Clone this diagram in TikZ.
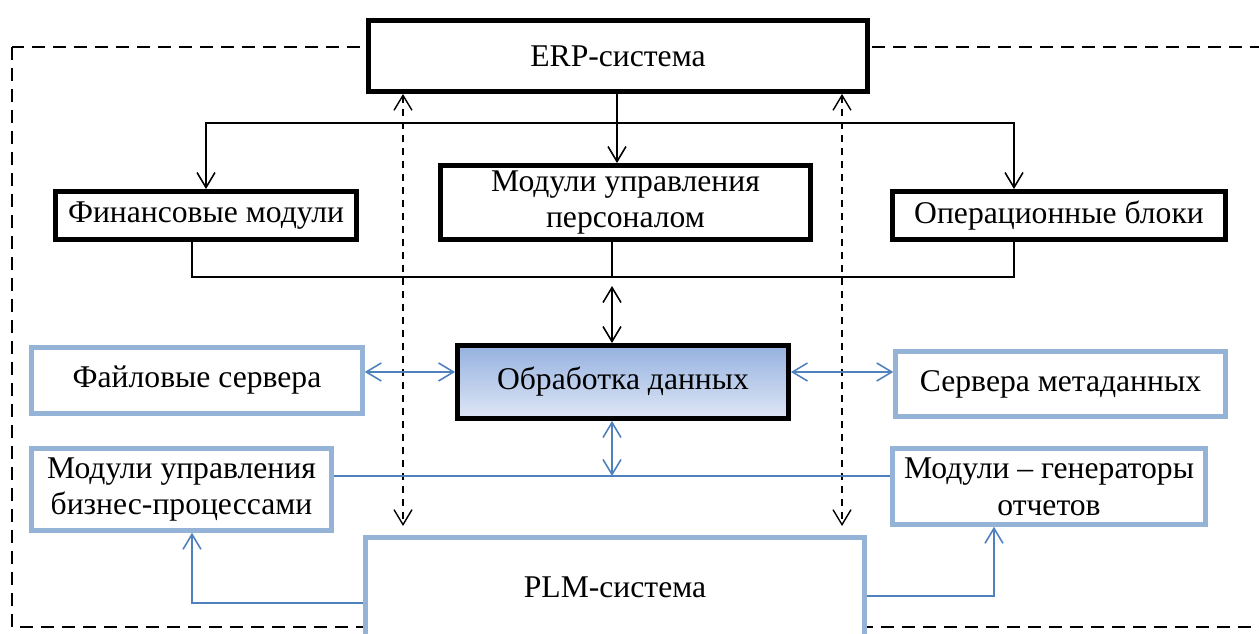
\documentclass[tikz,border=0pt]{standalone}
\usepackage{fontspec}
\setmainfont{Liberation Serif}
\usetikzlibrary{arrows.meta,positioning,calc}
\definecolor{cLineBlue}{HTML}{4F81BD}
\definecolor{cBoxBlue}{HTML}{95B3D7}
\definecolor{cProcTop}{HTML}{95B1E0}
\definecolor{cProcBot}{HTML}{DFE7F5}
\tikzset{
  kbox/.style={draw=black,fill=white,line width=2.8pt,align=center,font=\fontsize{18}{21}\selectfont,inner sep=2pt},
  bbox/.style={kbox,draw=cBoxBlue,line width=2.6pt},
  arr/.style={-{Straight Barb[length=0.3cm,width=0.36cm]},line width=0.9pt},
  darr/.style={{Straight Barb[length=0.3cm,width=0.36cm]}-{Straight Barb[length=0.3cm,width=0.36cm]},line width=0.9pt},
  ln/.style={line width=0.9pt},
  barr/.style={arr,color=cLineBlue},
  bdarr/.style={darr,color=cLineBlue},
  bln/.style={ln,color=cLineBlue},
  ddarr/.style={darr,line width=0.8pt,dash pattern=on 0.14cm off 0.12cm},
  frame/.style={line width=1.4pt,dash pattern=on 0.26cm off 0.16cm},
}

\begin{document}
\begin{tikzpicture}[x=0.02cm,y=-0.02cm]
  \useasboundingbox[fill=white] (0,0) rectangle (1259,634);
  \clip (0,0) rectangle (1259,634);
  % dashed frame
  \draw[frame] (12,47) rectangle (1275,627);
  % ERP part
  \node[kbox,minimum width=10.0cm,minimum height=1.42cm] (erp) at (618,56) {ERP-система};
  \node[kbox,minimum width=6.02cm,minimum height=0.96cm] (fin) at (206,215.5) {Финансовые модули};
  \node[kbox,minimum width=7.4cm,minimum height=1.48cm] (hr) at (625.5,202.5) {Модули управления\\персоналом};
  \node[kbox,minimum width=6.66cm,minimum height=0.96cm] (ops) at (1059,215.5) {Операционные блоки};
  \node[kbox,top color=cProcTop,bottom color=cProcBot,minimum width=6.62cm,minimum height=1.46cm] (proc) at (623,382) {Обработка данных};
  % PLM part
  \node[bbox,minimum width=6.62cm,minimum height=1.32cm] (files) at (197,380.5) {Файловые сервера};
  \node[bbox,minimum width=6.6cm,minimum height=1.3cm] (meta) at (1060.5,384) {Сервера метаданных};
  \node[bbox,minimum width=6.0cm,minimum height=1.64cm] (bpm) at (181.5,489.5) {Модули управления\\бизнес-процессами};
  \node[bbox,minimum width=6.26cm,minimum height=1.52cm] (reports) at (1049,486.5) {Модули -- генераторы\\отчетов};
  \node[bbox,minimum width=9.98cm,minimum height=1.98cm] (plm) at (615,587) {PLM-система};
  % ERP -> modules
  \coordinate (topbus) at (617,123);
  \draw[arr] (topbus |- erp.south) -- (topbus |- hr.north);
  \draw[arr] (topbus) -| (fin.north);
  \draw[arr] (topbus) -| ([xshift=-0.9cm]ops.north);
  % modules -> processing
  \coordinate (lowbus) at (612,277);
  \coordinate (procin) at (612,286);
  \draw[ln] ([xshift=-0.28cm]fin.south) |- (lowbus) -| ([xshift=-0.9cm]ops.south);
  \draw[ln] (lowbus |- hr.south) -- (lowbus);
  \draw[darr] (procin) -- (procin |- proc.north);
  % ERP <-> PLM
  \coordinate (dl) at (403,526);
  \coordinate (dr) at (842,526);
  \draw[ddarr] (dl |- erp.south) -- (dl);
  \draw[ddarr] (dr |- erp.south) -- (dr);
  % blue links
  \coordinate (midrow) at (0,372);
  \draw[bdarr] (files.east |- midrow) -- (proc.west |- midrow);
  \draw[bdarr] (proc.east |- midrow) -- (meta.west |- midrow);
  \coordinate (bluebus) at (612,476);
  \draw[bln] (bpm.east |- bluebus) -- (reports.west |- bluebus);
  \draw[bdarr] (bluebus |- proc.south) -- (bluebus);
  \coordinate (plmL) at (192,603);
  \coordinate (plmR) at (994,596);
  \draw[barr] (plm.west |- plmL) -| (plmL |- bpm.south);
  \draw[barr] (plm.east |- plmR) -| (plmR |- reports.south);
\end{tikzpicture}
\end{document}
